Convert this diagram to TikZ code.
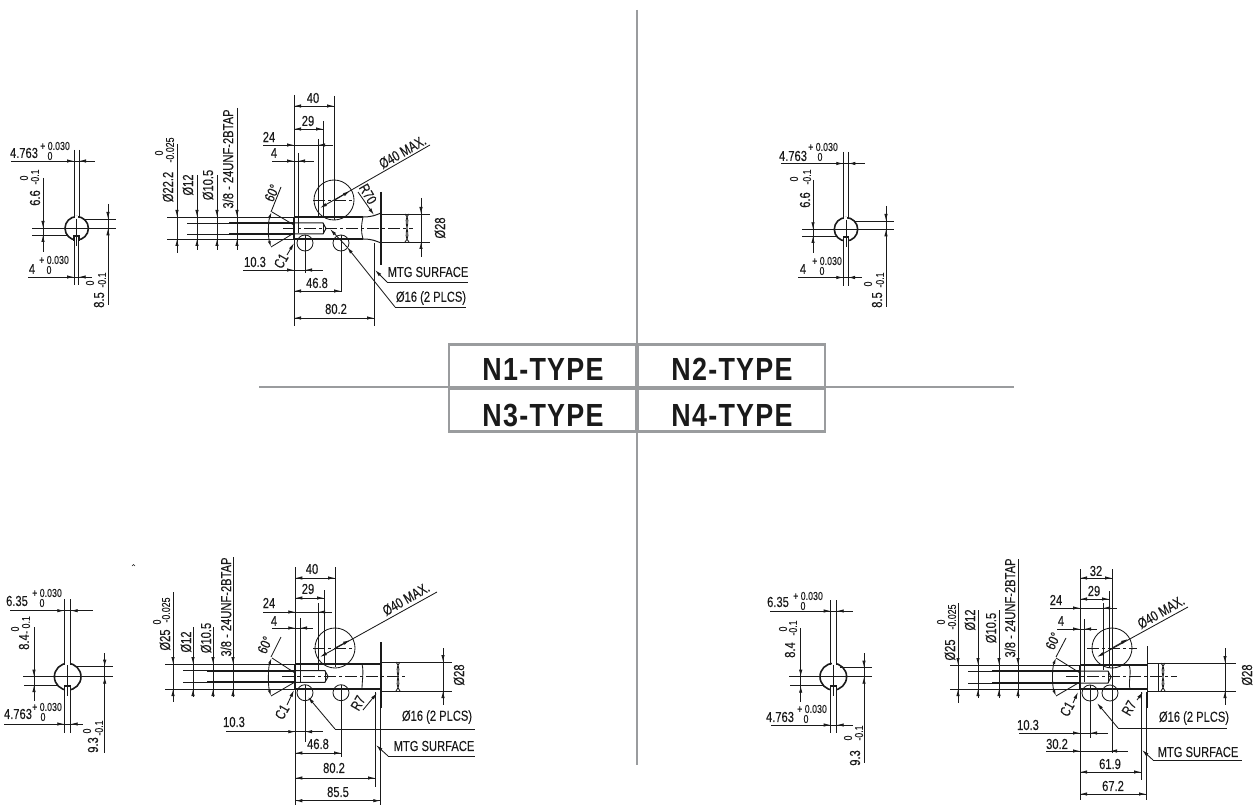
\documentclass[tikz,border=0pt]{standalone}
\usepackage{fontspec}
\usetikzlibrary{arrows.meta}
\newfontfamily\narfont[FakeStretch=0.77,FakeBold=0.08]{Liberation Sans}
\newfontfamily\narbold[FakeStretch=0.84,LetterSpace=4]{Liberation Sans Bold}
\definecolor{framegray}{HTML}{9A9C9E}
\definecolor{inkc}{HTML}{1A1A1A}
\newcounter{lbl}
\tikzset{
 x=1pt,y=-1pt,
 thin line/.style={line width=0.85pt,draw=inkc},
 thick line/.style={line width=1.8pt,draw=inkc},
 axis line/.style={line width=0.8pt,draw=inkc,dash pattern=on 12pt off 3pt on 3pt off 3pt},
 tipline/.style={line width=0.85pt,draw=inkc,-{Latex[length=7pt,width=3.4pt]}},
 dimtext/.style={inner sep=0pt,text=inkc,font=\narfont\fontsize{14.5}{14.5}\selectfont},
 smalltext/.style={inner sep=0pt,text=inkc,font=\narfont\fontsize{11.5}{12}\selectfont},
 titletext/.style={inner sep=0pt,anchor=base,text=inkc,font=\narbold\fontsize{32}{32}\selectfont},
 frame/.style={draw=framegray,line width=2.5pt},
 frameline/.style={draw=framegray,line width=1.2pt},
}
% text
\newcommand\T[4][0]{\stepcounter{lbl}\node[dimtext,rotate=#1] (t\thelbl) at (#2,#3) {#4};}
\newcommand\Ts[4][0]{\stepcounter{lbl}\node[smalltext,rotate=#1] (t\thelbl) at (#2,#3) {#4};}
% plain lines
\newcommand\HL[3]{\draw[thin line] (#2,#1)--(#3,#1);}
\newcommand\VL[3]{\draw[thin line] (#1,#2)--(#1,#3);}
\newcommand\LN[4]{\draw[thin line] (#1,#2)--(#3,#4);}
% tips
\newcommand\tipR[2]{\draw[tipline] ({#1-7},#2)--(#1,#2);}
\newcommand\tipL[2]{\draw[tipline] ({#1+7},#2)--(#1,#2);}
\newcommand\tipD[2]{\draw[tipline] (#1,{#2-7})--(#1,#2);}
\newcommand\tipU[2]{\draw[tipline] (#1,{#2+7})--(#1,#2);}
\newcommand\tipT[4]{\draw[tipline] (#1,#2)--(#3,#4);}
% y, x-start, x-end, tipA, tipB : arrows outside pointing in
\newcommand\dimI[5]{\HL{#1}{#2}{#3}\tipR{#4}{#1}\tipL{#5}{#1}}
% y, xA, xB : arrows inside pointing out
\newcommand\dimO[3]{\HL{#1}{#2}{#3}\tipL{#2}{#1}\tipR{#3}{#1}}
% x, y-start, y-end, tipA, tipB
\newcommand\dimV[5]{\VL{#1}{#2}{#3}\tipD{#1}{#4}\tipU{#1}{#5}}
% keyway end view: cx cy r  xl xr
\newcommand\keyv[5]{
 \draw[line width=1.6pt,draw=inkc] (#1,#2) circle (#3);
 \fill[white] ({#4+1},{#2-#3-1}) rectangle ({#5-1},{#2-#3+2});
 \fill[white] ({#4+.7},{#2+#3-3}) rectangle ({#5-.7},{#2+#3+2});
 \draw[line width=1.2pt,draw=inkc] ({#4},{#2+#3+1})--({#4},{#2+#3-4})--({#5},{#2+#3-4})--({#5},{#2+#3+1});
 \VL{#1}{#2-#3+2}{#2+#3+6}
}
% shaft stepped left end: xl topy boty  xoutL  xinL xthk  innerTop innerBot xholeEnd
\newcommand\shaftleft[9]{
 \HL{#2}{#4}{#1}\HL{#3}{#4}{#1}
 \HL{#7}{#5}{#1}\HL{#8}{#5}{#1}
 \draw[thick line] (#6,#7)--(#1,#7) (#6,#8)--(#1,#8);
 \draw[thick line] (#1,#2)--(#1,#3);
 \draw[line width=1pt,draw=inkc] (#1,#7)--(#9,#7)--({#9+3},{(#7+#8)/2})--(#9,#8)--(#1,#8);
 \VL{#9}{#7}{#8}
}
\begin{document}
\begin{tikzpicture}
\useasboundingbox (0,0) rectangle (1254,805);
% ---- central cross and title box
\draw[frameline] (637,10)--(637,765);
\draw[frameline] (259,387)--(1014,387);
\fill[white] (449,344) rectangle (825,432);
\draw[frame] (449,344.5) rectangle (825,431.5);
\draw[draw=framegray,line width=4pt] (637,344)--(637,432) (449,387.5)--(825,387.5);
\node[titletext] (n1) at (543,380) {N1-TYPE};
\node[titletext] (n2) at (732,380) {N2-TYPE};
\node[titletext] (n3) at (543,426) {N3-TYPE};
\node[titletext] (n4) at (732,426) {N4-TYPE};

% ===== N1 end view
\keyv{76.7}{228.3}{11.7}{74}{79}
\VL{74}{150}{218}\VL{79}{150}{218}
\VL{74}{240}{285}\VL{78.7}{240}{285}
\dimI{161}{11}{95}{74}{79}
\T{24}{153}{4.763}\Ts{55}{146}{+ 0.030}\Ts{50}{156}{0}
\dimV{43}{178}{252}{228}{235}
\HL{228.3}{32}{116}\HL{235}{32}{67}\HL{219}{85}{116}
\T[90]{35}{198}{6.6}\Ts[90]{24}{178}{0}\Ts[90]{35}{177}{-0.1}
\dimV{108}{204}{305}{219}{228.3}
\T[90]{99}{300}{8.5}\Ts[90]{90}{283}{0}\Ts[90]{102}{280}{-0.1}
\dimI{277}{28}{92}{74}{78.7}
\T{32}{269}{4}\Ts{54}{260}{+ 0.030}\Ts{49}{270}{0}

% ===== N1 side view
\shaftleft{294}{217}{239}{167}{187}{229}{223}{234}{323}
\draw[thick line] (294,217)--(363,217) (294,239)--(363,239);
\draw[line width=1pt,draw=inkc] (363,217) .. controls (372,217) and (376,215) .. (381,213);
\draw[line width=1pt,draw=inkc] (363,239) .. controls (372,239) and (376,241) .. (381,243);
\draw[thin line] (363,217) .. controls (361,226) and (361,232) .. (363,239);
\draw[thick line] (381,192)--(381,265);
\HL{214}{381}{430}\HL{242}{381}{430}
\draw[thin line] (405,214) .. controls (413,221) and (401,235) .. (409,242) (409,214) .. controls (401,221) and (413,235) .. (405,242);
\draw[axis line] (283,228.3)--(413,228.3);
\VL{294}{95}{326}
\VL{334}{96}{220}\dimO{106}{294}{334}\T{313}{98}{40}
\VL{323}{121}{217}\dimO{129}{294}{323}\T{308}{121}{29}
\VL{318}{139}{217}\dimI{145}{263}{333}{294}{318}\T{269}{137}{24}
\VL{298}{153}{233}\dimI{161}{272}{314}{294}{298}\T{274}{153}{4}
\draw[thin line] (334,200) circle (20);
\draw[axis line] (313,200)--(354,200);
\tipT{430}{145}{320}{208}\tipT{335}{200}{350}{191}
\T[30]{402.5}{152}{Ø40 MAX.}
\tipT{358}{192}{374}{215}\T[-60]{368}{194}{R70}
\dimV{177}{144}{253}{217}{239}
\VL{197}{175}{250}\tipD{197}{217}\tipU{197}{239}
\VL{217}{175}{250}\tipD{217}{217}\tipU{217}{239}
\VL{237}{108}{250}\tipD{237}{217}\tipU{237}{239}
\T[90]{168}{187}{Ø22.2}\Ts[90]{159}{153}{0}\Ts[90]{170}{150}{-0.025}
\T[90]{188}{185}{Ø12}\T[90]{208}{185}{Ø10.5}\T[90]{228}{159}{3/8 - 24UNF-2BTAP}
\dimV{421}{198}{257}{214}{242}\T[90]{440}{228}{Ø28}
% 60 deg
\LN{272}{212}{294}{225}\LN{271}{247}{294}{233}
\draw[tipline,{Latex[length=6pt,width=3pt]}-{Latex[length=6pt,width=3pt]}] (271.5,212) .. controls (268,222) and (268,237) .. (271,247);
\LN{271}{212}{281}{187}\T[65]{272}{193}{60°}
% small holes
\draw[thin line] (305,243) circle (8) (341,243) circle (8);
\VL{305}{235}{273}\VL{341}{235}{292}
\dimI{270}{243}{323}{294}{305}\T{255}{262}{10.3}
\dimO{291}{294}{341}\T{317}{283}{46.8}
\VL{374}{243}{326}\dimO{318}{294}{374}\T{336}{309}{80.2}
\tipT{287}{255}{294}{243}\T[60]{281}{261}{C1}
\tipT{387}{282}{375}{270}\HL{282}{387}{468}\T{428}{272}{MTG SURFACE}
\tipT{395}{307}{347}{247}\tipT{347}{247}{330}{229}\HL{307}{395}{466}\T{431}{298}{Ø16 (2 PLCS)}

% ===== N2 end view
\keyv{846}{229.3}{11.7}{843.3}{848.3}
\VL{843.3}{152}{219}\VL{848.3}{152}{219}
\VL{843.3}{241}{286}\VL{848}{241}{286}
\dimI{163.5}{781}{865}{843.3}{848.3}
\T{793}{156}{4.763}\Ts{823}{147}{+ 0.030}\Ts{820}{157}{0}
\dimV{813}{180}{253}{229.3}{236}
\HL{229.3}{802}{894}\HL{236}{802}{836}\HL{221}{855}{894}
\T[90]{805}{200}{6.6}\Ts[90]{794}{179}{0}\Ts[90]{807}{177}{-0.1}
\dimV{886}{206}{307}{221}{229.3}
\T[90]{877}{300}{8.5}\Ts[90]{868}{284}{0}\Ts[90]{880}{280}{-0.1}
\dimI{277.5}{798}{862}{843.3}{848}
\T{803}{269}{4}\Ts{827}{261}{+ 0.030}\Ts{822}{271}{0}

% ===== N3 end view
\keyv{67.7}{676.7}{13.3}{64.3}{70.7}
\VL{64.3}{599}{665}\VL{70.7}{599}{665}
\VL{64.3}{690}{733}\VL{70.7}{690}{733}
\dimI{610.7}{10}{92.7}{64.3}{70.7}
\T{17}{601}{6.35}\Ts{47}{593}{+ 0.030}\Ts{42}{603}{0}
\dimV{34}{627}{701}{676.7}{685}
\HL{676.7}{23}{113}\HL{685}{24}{57}\HL{666.7}{75}{113}
\T[90]{24}{642}{8.4}\Ts[90]{15}{629}{0}\Ts[90]{26}{625}{- 0.1}
\dimV{104.7}{653}{753}{666.7}{676.7}
\T[90]{93}{745}{9.3}\Ts[90]{87}{731}{0}\Ts[90]{99}{728}{-0.1}
\dimI{724}{4}{83}{64.3}{70.7}
\T{18}{714}{4.763}\Ts{47}{707}{+ 0.030}\Ts{43}{717}{0}
\draw[line width=.5pt,draw=inkc] (132,566)--(133.5,564.5)--(135,566);

% ===== N3 side view
\shaftleft{295.3}{664}{689}{165}{183}{207}{670.7}{682.3}{325}
\draw[thick line] (295.3,664)--(380.7,664) (295.3,689)--(380.7,689);
\draw[thin line] (362,664) .. controls (364,672) and (362,681) .. (362,689);
\draw[thick line] (380.7,642)--(380.7,708);
\HL{662}{381}{452}\HL{691}{381}{452}
\draw[thin line] (396,662) .. controls (404,671) and (392,682) .. (400,691) (400,662) .. controls (392,671) and (404,682) .. (396,691);
\draw[axis line] (282,676.7)--(407,676.7);
\VL{295.3}{567}{805}
\VL{335}{567}{667}\dimO{578}{295.3}{335}\T{312}{569}{40}
\VL{324}{590}{664}\dimO{598}{295.3}{324}\T{308}{589}{29}
\VL{318}{603}{670}\dimI{612}{263}{332}{295.3}{318}\T{269}{603}{24}
\VL{300}{618}{682}\dimI{628}{272}{313}{295.3}{300}\T{274}{621}{4}
\draw[thin line] (335,648) circle (20);
\draw[axis line] (313,648)--(354,648);
\tipT{437}{592}{320}{657}\tipT{335}{648}{350}{640}
\T[30]{406}{599}{Ø40 MAX.}
\dimV{173}{592}{702}{664}{689}
\VL{193}{627}{697}\tipD{193}{664}\tipU{193}{689}
\VL{213}{627}{697}\tipD{213}{664}\tipU{213}{689}
\VL{233}{557}{697}\tipD{233}{664}\tipU{233}{689}
\T[90]{165}{640}{Ø25}\Ts[90]{166}{610}{-0.025}\Ts[90]{157}{622}{0}
\T[90]{186}{642}{Ø12}\T[90]{206}{638}{Ø10.5}\T[90]{226}{607}{3/8 - 24UNF-2BTAP}
\dimV{443}{648}{705}{662}{691}\T[90]{459}{675}{Ø28}
\LN{272}{658}{295}{673}\LN{271}{696}{295}{682}
\draw[tipline,{Latex[length=6pt,width=3pt]}-{Latex[length=6pt,width=3pt]}] (271.5,658) .. controls (268,668) and (268,686) .. (271,696);
\LN{271}{657}{281}{637}\T[65]{265}{645}{60°}
\draw[thin line] (305,692.7) circle (8) (341,692.7) circle (8);
\VL{305}{685}{742}\VL{341}{685}{757}
\dimI{731.7}{226}{323}{295.3}{305}\T{234}{722}{10.3}
\dimO{753}{295.3}{341}\T{318}{744}{46.8}
\VL{375}{692}{787}\dimO{778}{295.3}{375}\T{334}{768}{80.2}
\VL{380.3}{692}{805}\dimO{800.7}{295.3}{380.3}\T{338}{792}{85.5}
\tipT{287}{705}{294}{690}\T[60]{282}{712}{C1}
\tipT{363}{710}{377}{693}\T[60]{358}{703}{R7}
\tipT{335}{729}{308}{697}\HL{729}{335}{475}\T{437}{717}{Ø16 (2 PLCS)}
\tipT{388}{756}{376}{745}\HL{756}{388}{475}\T{434}{746}{MTG SURFACE}

% ===== N4 end view
\keyv{833.3}{676.7}{13.3}{830.7}{836.7}
\VL{830.7}{600}{665}\VL{836.7}{600}{665}
\VL{830.7}{690}{733}\VL{836.7}{690}{733}
\dimI{611}{770}{852.7}{830.7}{836.7}
\T{778}{602}{6.35}\Ts{808}{596}{+ 0.030}\Ts{803}{606}{0}
\dimV{800.7}{628}{702}{676.7}{685.7}
\HL{676.7}{789}{872}\HL{685.7}{790}{823}\HL{667.7}{840}{872}
\T[90]{790}{650}{8.4}\Ts[90]{783}{629}{0}\Ts[90]{793}{628}{-0.1}
\dimV{864}{653}{763}{667.7}{676.7}
\T[90]{855}{758}{9.3}\Ts[90]{848}{738}{0}\Ts[90]{859}{733}{-0.1}
\dimI{725}{771}{853}{830.7}{836.7}
\T{780}{717}{4.763}\Ts{812}{709}{+ 0.030}\Ts{806}{719}{0}

% ===== N4 side view
\shaftleft{1080}{665}{689}{950}{968}{992}{671}{683}{1108}
\draw[thick line] (1080,665)--(1147,665) (1080,689)--(1147,689);
\draw[thin line] (1129,665) .. controls (1132,672) and (1128,682) .. (1130,689);
\draw[thick line] (1147.5,646)--(1147.5,708);
\HL{663}{1147}{1236}\HL{691}{1147}{1236}
\VL{1158}{663}{691}
\draw[thin line] (1161,663) .. controls (1169,672) and (1157,682) .. (1165,691) (1165,663) .. controls (1157,672) and (1169,682) .. (1161,691);
\draw[axis line] (1066,676.7)--(1177,676.7);
\VL{1080}{569}{800}
\VL{1112}{569}{753}\dimO{578}{1080}{1112}\T{1096}{571}{32}
\VL{1109}{591}{668}\dimO{599}{1080}{1109}\T{1094}{591}{29}
\VL{1103}{603}{670}\dimI{608}{1050}{1117}{1080}{1103}\T{1056}{600}{24}
\VL{1084}{619}{682}\dimI{629}{1057}{1097}{1080}{1084}\T{1061}{621}{4}
\draw[thin line] (1112,648) circle (20);
\draw[axis line] (1087,648)--(1137,648);
\tipT{1188}{607}{1097}{657}\tipT{1112}{648}{1128}{639}
\T[30]{1161}{612}{Ø40 MAX.}
\dimV{958}{603}{703}{665}{689}
\VL{978}{610}{698}\tipD{978}{665}\tipU{978}{689}
\VL{999}{610}{698}\tipD{999}{665}\tipU{999}{689}
\VL{1018}{559}{698}\tipD{1018}{665}\tipU{1018}{689}
\T[90]{950}{650}{Ø25}\Ts[90]{952}{617}{-0.025}\Ts[90]{941}{622}{0}
\T[90]{970}{620}{Ø12}\T[90]{991}{628}{Ø10.5}\T[90]{1010}{608}{3/8 - 24UNF-2BTAP}
\dimV{1225}{648}{705}{663}{691}\T[90]{1247}{675}{Ø28}
\LN{1056}{658}{1080}{673}\LN{1056}{696}{1080}{682}
\draw[tipline,{Latex[length=6pt,width=3pt]}-{Latex[length=6pt,width=3pt]}] (1056,658) .. controls (1052,668) and (1052,686) .. (1056,696);
\LN{1056}{657}{1066}{638}\T[65]{1053}{641}{60°}
\draw[thin line] (1090,693) circle (8) (1110,693) circle (8);
\VL{1090}{685}{738}
\dimI{733}{1019}{1108}{1080}{1090}\T{1028}{725}{10.3}
\dimI{751}{1046}{1128}{1080}{1110}\T{1057}{744}{30.2}
\VL{1141}{692}{780}\dimO{772}{1080}{1141}\T{1110}{764}{61.9}
\VL{1146}{692}{800}\dimO{794}{1080}{1146}\T{1113}{786}{67.2}
\tipT{1073}{703}{1078}{692}\T[60]{1067}{709}{C1}
\tipT{1137}{700}{1143}{692}\T[60]{1129}{708}{R7}
\tipT{1118}{728}{1097}{703}\HL{728}{1118}{1227}\T{1194}{718}{Ø16 (2 PLCS)}
\tipT{1153}{760}{1142}{750}\HL{760}{1153}{1242}\T{1198}{752}{MTG SURFACE}
\end{tikzpicture}
\end{document}
